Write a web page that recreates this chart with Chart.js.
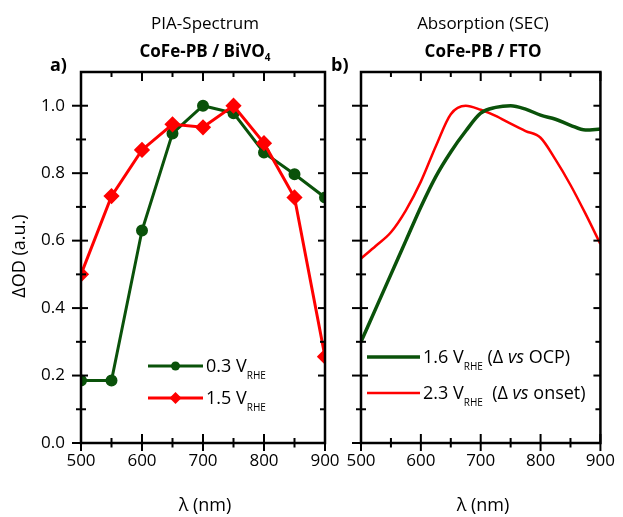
<!DOCTYPE html>
<html>
<head>
<meta charset="utf-8">
<script src="https://cdn.jsdelivr.net/npm/chart.js@4.4.0/dist/chart.umd.min.js"></script>
<style>
  body { margin: 0; background: #fff; width: 623px; height: 517px; position: relative; overflow: hidden; }
  .panel { position: absolute; top: 0; height: 517px; }
</style>
</head>
<body>
<div class="panel" style="left:0;width:350px"><canvas id="chartA"></canvas></div>
<div class="panel" style="left:320px;width:303px"><canvas id="chartB"></canvas></div>
<script>
// ---- data ----
const wlPIA = [500, 550, 600, 650, 700, 750, 800, 850, 900];
const pia03 = [0.185, 0.185, 0.63, 0.918, 1.0, 0.978, 0.861, 0.797, 0.728];
const pia15 = [0.50, 0.732, 0.869, 0.945, 0.936, 1.0, 0.889, 0.728, 0.256];

const wlSEC = [500, 525, 550, 575, 600, 625, 650, 675, 700, 725, 750, 775, 800, 825, 850, 875, 900];
const sec16 = [0.30, 0.40, 0.50, 0.60, 0.70, 0.79, 0.863, 0.925, 0.978, 0.995, 1.0, 0.99, 0.972, 0.96, 0.942, 0.928, 0.931];
const sec23 = [0.547, 0.585, 0.625, 0.69, 0.775, 0.88, 0.975, 1.0, 0.988, 0.97, 0.947, 0.925, 0.905, 0.84, 0.765, 0.68, 0.59];

const yMajor = [0, 0.2, 0.4, 0.6, 0.8, 1.0];
const yMinor = [0.1, 0.3, 0.5, 0.7, 0.9];
const xMajor = [500, 600, 700, 800, 900];
const xMinor = [550, 650, 750, 850];

const GREEN = "#0a520a";
const RED = "#ff0000";
const FAM = '"Open Sans", "Lato", sans-serif';

const pts = (xs, ys) => xs.map((x, i) => ({ x, y: ys[i] }));

// draw a run of text pieces (for subscripts / italics)
function rich(ctx, parts, x, y, align) {
  let w = 0;
  const widths = parts.map(p => { ctx.font = p.font; const m = ctx.measureText(p.t).width; w += m; return m; });
  let cx = align === "center" ? x - w / 2 : x;
  ctx.textAlign = "left";
  ctx.textBaseline = "middle";
  parts.forEach((p, i) => { ctx.font = p.font; ctx.fillText(p.t, cx, y + (p.dy || 0)); cx += widths[i]; });
}

const reg = s => `${s}px ${FAM}`;
const bold = s => `bold ${s}px ${FAM}`;
const ital = s => `italic ${s}px ${FAM}`;

function seg(ctx, x0, y0, x1, y1) {
  ctx.beginPath();
  ctx.moveTo(x0, y0);
  ctx.lineTo(x1, y1);
  ctx.stroke();
}

// ----------------------------------------------------
// frame, ticks, titles, legend
// ----------------------------------------------------
const decoPlugin = {
  id: "deco",
  afterDraw(chart) {
    const o = chart.config.options.deco;
    const ctx = chart.ctx;
    const { left, right, top, bottom } = chart.chartArea;
    const xs = chart.scales.x, ys = chart.scales.y;
    const off = o.offset;
    ctx.save();
    ctx.strokeStyle = "#000";
    ctx.lineWidth = 2.5;
    ctx.strokeRect(left, top, right - left, bottom - top);

    ctx.lineWidth = 2;
    const xt = (vals, out, inner) => vals.forEach(v => {
      const px = xs.getPixelForValue(v);
      seg(ctx, px, bottom + out, px, bottom - inner);
      seg(ctx, px, top, px, top + inner);
    });
    const yt = (vals, out, inner) => vals.forEach(v => {
      const py = ys.getPixelForValue(v);
      seg(ctx, left - out, py, left + inner, py);
      seg(ctx, right, py, right - inner, py);
    });
    xt(xMajor, 8, 9);
    xt(xMinor, 4.5, 5);
    yt(yMajor, 9, 7);
    yt(yMinor, 5, 5);

    ctx.fillStyle = "#000";
    rich(ctx, [{ t: o.title, font: reg(17) }], o.cx - off, 24, "center");
    rich(ctx, o.subtitle, o.cx - off, 52, "center");
    rich(ctx, [{ t: o.letter, font: bold(18) }], o.letterX - off, 66, "left");
    rich(ctx, [{ t: "λ (nm)", font: reg(18) }], o.cx - off, 506, "center");

    if (o.yTitle) {
      ctx.save();
      ctx.translate(20 - off, 256);
      ctx.rotate(-Math.PI / 2);
      rich(ctx, [{ t: "ΔOD (a.u.)", font: reg(18) }], 0, 0, "center");
      ctx.restore();
    }

    o.legend.forEach(L => {
      ctx.strokeStyle = L.color;
      ctx.lineWidth = L.width;
      seg(ctx, L.x0 - off, L.y, L.x1 - off, L.y);
      ctx.fillStyle = L.color;
      const mx = (L.x0 + L.x1) / 2 - off;
      if (L.marker === "circle") {
        ctx.beginPath(); ctx.arc(mx, L.y, 4.5, 0, Math.PI * 2); ctx.fill();
      } else if (L.marker === "diamond") {
        ctx.beginPath();
        ctx.moveTo(mx, L.y - 6); ctx.lineTo(mx + 6, L.y); ctx.lineTo(mx, L.y + 6); ctx.lineTo(mx - 6, L.y);
        ctx.closePath(); ctx.fill();
      }
      ctx.fillStyle = "#000";
      rich(ctx, L.text, L.x1 + 3 - off, L.y + 1, "left");
    });
    ctx.restore();
  }
};

function baseScales(showY, yWidth, xHeight) {
  return {
    x: {
      type: "linear", min: 500, max: 900,
      grid: { display: false, drawTicks: false }, border: { display: false },
      ticks: { stepSize: 100, padding: 8, color: "#000", font: { family: FAM, size: 17 }, maxRotation: 0 },
      afterFit: s => { s.height = xHeight; }
    },
    y: {
      min: 0, max: 1.1,
      grid: { display: false, drawTicks: false }, border: { display: false },
      ticks: {
        display: showY, stepSize: 0.2, includeBounds: false, padding: 16, color: "#000",
        font: { family: FAM, size: 17 }, callback: v => v.toFixed(1)
      },
      afterFit: s => { s.width = yWidth; }
    }
  };
}

const sub = (t, dy) => ({ t, font: reg(10), dy });

// ---- panel a) PIA spectrum ----
new Chart(document.getElementById("chartA"), {
  type: "line",
  data: {
    datasets: [
      {
        label: "1.5 V RHE", data: pts(wlPIA, pia15), order: 0,
        borderColor: RED, backgroundColor: RED, borderWidth: 3,
        pointStyle: "rectRot", pointRadius: 6, tension: 0
      },
      {
        label: "0.3 V RHE", data: pts(wlPIA, pia03), order: 1,
        borderColor: GREEN, backgroundColor: GREEN, borderWidth: 3,
        pointStyle: "circle", pointRadius: 4.5, tension: 0
      }
    ]
  },
  options: {
    responsive: true, maintainAspectRatio: false, animation: false,
    layout: { padding: { top: 72, right: 25, bottom: 0, left: 0 } },
    scales: baseScales(true, 81, 74),
    plugins: { legend: { display: false }, tooltip: { enabled: false } },
    deco: {
      offset: 0, cx: 205, letterX: 50, yTitle: true,
      title: "PIA-Spectrum",
      subtitle: [{ t: "CoFe-PB / BiVO", font: bold(17) }, { t: "4", font: bold(10), dy: 6 }],
      letter: "a)",
      legend: [
        { x0: 148, x1: 203, y: 366, color: GREEN, width: 3, marker: "circle",
          text: [{ t: "0.3 V", font: reg(18) }, sub("RHE", 9)] },
        { x0: 148, x1: 203, y: 398, color: RED, width: 3, marker: "diamond",
          text: [{ t: "1.5 V", font: reg(18) }, sub("RHE", 9)] }
      ]
    }
  },
  plugins: [decoPlugin]
});

// ---- panel b) SEC absorption ----
new Chart(document.getElementById("chartB"), {
  type: "line",
  data: {
    datasets: [
      {
        label: "1.6 V RHE", data: pts(wlSEC, sec16), order: 0,
        borderColor: GREEN, borderWidth: 3.5, pointRadius: 0, cubicInterpolationMode: "monotone"
      },
      {
        label: "2.3 V RHE", data: pts(wlSEC, sec23), order: 1,
        borderColor: RED, borderWidth: 2.5, pointRadius: 0, cubicInterpolationMode: "monotone"
      }
    ]
  },
  options: {
    responsive: true, maintainAspectRatio: false, animation: false,
    layout: { padding: { top: 72, right: 19, bottom: 0, left: 0 } },
    scales: baseScales(false, 41, 74),
    plugins: { legend: { display: false }, tooltip: { enabled: false } },
    deco: {
      offset: 320, cx: 483, letterX: 331, yTitle: false,
      title: "Absorption (SEC)",
      subtitle: [{ t: "CoFe-PB / FTO", font: bold(17) }],
      letter: "b)",
      legend: [
        { x0: 367, x1: 420, y: 357, color: GREEN, width: 3.5,
          text: [{ t: "1.6 V", font: reg(18) }, sub("RHE", 9), { t: " (Δ ", font: reg(18) },
                 { t: "vs", font: ital(18) }, { t: " OCP)", font: reg(18) }] },
        { x0: 367, x1: 420, y: 393, color: RED, width: 2.5,
          text: [{ t: "2.3 V", font: reg(18) }, sub("RHE", 9), { t: "  (Δ ", font: reg(18) },
                 { t: "vs", font: ital(18) }, { t: " onset)", font: reg(18) }] }
      ]
    }
  },
  plugins: [decoPlugin]
});
</script>
</body>
</html>
